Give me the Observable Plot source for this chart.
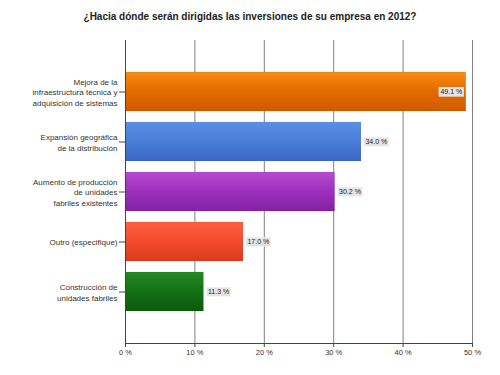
<!DOCTYPE html>
<html>
<head>
<meta charset="utf-8">
<script src="https://cdn.jsdelivr.net/npm/d3@7"></script>
<script src="https://cdn.jsdelivr.net/npm/@observablehq/plot@0.6"></script>
<style>
  html, body { margin: 0; padding: 0; background: #fff; }
  #title { height: 30px; width: 500px; text-align: center; font: bold 10px "Liberation Sans", Arial, sans-serif; color: #222; line-height: 34px; box-sizing: border-box; }
  svg { display: block; }
</style>
</head>
<body>
<div id="title">¿Hacia dónde serán dirigidas las inversiones de su empresa en 2012?</div>
<div id="chart"></div>
<script>
const categories = [
  "Mejora de la\ninfraestructura técnica y\nadquisición de sistemas",
  "Expansión geográfica\nde la distribución",
  "Aumento de producción\nde unidades\nfabriles existentes",
  "Outro (especifique)",
  "Construcción de\nunidades fabriles"
];
const values = [49.1, 34.0, 30.2, 17.0, 11.3];
const xTicks = [0, 10, 20, 30, 40, 50];
const palette = [
  ["#f88a10", "#e46a00", "#d05a00"],
  ["#5a90e6", "#4a7cd8", "#3a68c4"],
  ["#b84ad2", "#9c30bc", "#8520a4"],
  ["#ff6040", "#f24a2c", "#dc3a1e"],
  ["#228a22", "#157015", "#0a5a0a"]
];

const data = categories.map((c, i) => ({category: c, value: values[i], grad: `url(#g${i})`}));

const defs = () => {
  const ns = "http://www.w3.org/2000/svg";
  const d = document.createElementNS(ns, "defs");
  palette.forEach((p, i) => {
    const g = document.createElementNS(ns, "linearGradient");
    g.setAttribute("id", "g" + i);
    g.setAttribute("x1", "0"); g.setAttribute("y1", "0");
    g.setAttribute("x2", "0"); g.setAttribute("y2", "1");
    [[0, p[0]], [0.5, p[1]], [1, p[2]]].forEach(([o, c]) => {
      const s = document.createElementNS(ns, "stop");
      s.setAttribute("offset", o);
      s.setAttribute("stop-color", c);
      g.appendChild(s);
    });
    d.appendChild(g);
  });
  return d;
};

const chart = Plot.plot({
  width: 500,
  height: 345,
  marginTop: 10,
  marginBottom: 32,
  marginLeft: 125,
  marginRight: 28,
  style: {fontFamily: "'Liberation Sans', Arial, sans-serif", background: "#fff", color: "#333"},
  x: {domain: [0, 50], ticks: xTicks, tickFormat: d => d + " %", label: null},
  y: {domain: categories, paddingInner: 0.23, paddingOuter: 0.615, label: null},
  color: {type: "identity"},
  marks: [
    defs,
    Plot.ruleX(xTicks.slice(1), {stroke: "#808080", strokeWidth: 1}),
    Plot.barX(data, {x: "value", y: "category", fill: "grad", stroke: "rgba(0,0,0,0.12)", strokeWidth: 0.5}),
    Plot.text(data, {
      x: "value", y: "category",
      text: d => d.value.toFixed(1) + " %",
      fontSize: 7, fill: "#222",
      className: "vlabel"
    }),
    Plot.axisX({ticks: xTicks, tickFormat: d => d + " %", tickSize: 4, tickPadding: 2, fontSize: 7.5, stroke: "#444", fill: "#333", label: null}),
    Plot.axisY({tickSize: 6, tickPadding: 2, fontSize: 8, lineHeight: 1.3, stroke: "#444", fill: "#333", label: null}),
    Plot.frame({anchor: "left", stroke: "#444"}),
    Plot.frame({anchor: "bottom", stroke: "#444"})
  ]
});
document.getElementById("chart").appendChild(chart);

// value labels: outside the bar end, or inside when the bar reaches the edge; light box behind
d3.select(chart).selectAll("g.vlabel text").each(function(d, i) {
  const t = d3.select(this);
  const inside = values[i] > 45;
  t.attr("text-anchor", inside ? "end" : "start");
  t.attr("dx", inside ? -4 : 4);
  const bb = this.getBBox();
  const tr = t.attr("transform");
  const r = document.createElementNS("http://www.w3.org/2000/svg", "rect");
  r.setAttribute("x", bb.x - 1.5);
  r.setAttribute("y", bb.y - 1);
  r.setAttribute("width", bb.width + 3);
  r.setAttribute("height", bb.height + 2);
  r.setAttribute("fill", "#e4e4e4");
  r.setAttribute("stroke", "#f4f4f4");
  r.setAttribute("stroke-width", "0.5");
  if (tr) r.setAttribute("transform", tr);
  this.parentNode.insertBefore(r, this);
});
</script>
</body>
</html>
